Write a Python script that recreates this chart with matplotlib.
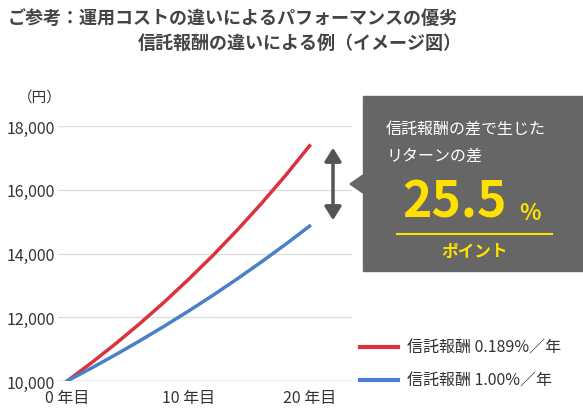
import matplotlib
matplotlib.use("Agg")
import matplotlib.pyplot as plt
from matplotlib.patches import Rectangle, Polygon, FancyArrowPatch

plt.rcParams['font.family'] = ['Noto Sans CJK JP', 'DejaVu Sans']

years = [0, 2, 4, 6, 8, 10, 12, 14, 16, 18, 20]
low_fee = [10000, 10568, 11168, 11802, 12472, 13183, 13930, 14721, 15557, 16440, 17379]
high_fee = [10000, 10404, 10824, 11262, 11717, 12190, 12682, 13195, 13728, 14282, 14859]
labels = ["信託報酬 0.189%／年", "信託報酬 1.00%／年"]
yticks = [10000, 12000, 14000, 16000, 18000]
xticks = [0, 10, 20]
xticklabels = ["0 年目", "10 年目", "20 年目"]

W, H = 583, 414
fig = plt.figure(figsize=(W/100, H/100), dpi=100)
def fx(p): return p / W
def fy(p): return 1 - p / H

ax = fig.add_axes([fx(58), fy(382), fx(352) - fx(58), fy(127) - fy(382)])
ax.set_xlim(-0.75, 23.5)
ax.set_ylim(10000, 18000)
red, blue = "#d9333f", "#4a7fcb"
ax.plot(years, low_fee, color=red, lw=2.5, zorder=3)
ax.plot(years, high_fee, color=blue, lw=2.5, zorder=3)
for v in yticks:
    ax.axhline(v, color="#999999" if v == 10000 else "#dddddd", lw=1, zorder=1)
for s in ax.spines.values():
    s.set_visible(False)
ax.set_yticks(yticks)
ax.set_yticklabels([f"{v:,}" for v in yticks], fontsize=11.5, color="#333333")
ax.set_xticks(xticks)
ax.set_xticklabels(xticklabels, fontsize=11.5, color="#333333")
ax.tick_params(length=0, pad=2)
ax.tick_params(axis='x', pad=6)

txtc = "#444444"
fig.text(fx(8), fy(18), "ご参考：運用コストの違いによるパフォーマンスの優劣", fontsize=13,
         fontweight="bold", color=txtc, va="center")
fig.text(fx(138), fy(43), "信託報酬の違いによる例（イメージ図）", fontsize=13,
         fontweight="bold", color=txtc, va="center")
fig.text(fx(18), fy(98), "（円）", fontsize=10.5, color="#333333", va="center")

fig.patches.append(Rectangle((fx(363), fy(272)), fx(583) - fx(363), fy(97) - fy(272),
                             transform=fig.transFigure, color="#666666"))
fig.patches.append(Polygon([(fx(363), fy(176)), (fx(350), fy(185)), (fx(363), fy(194))],
                           closed=True, transform=fig.transFigure, color="#666666"))
fig.text(fx(386), fy(130), "信託報酬の差で生じた", fontsize=11.5, color="white", ha="left", va="center")
fig.text(fx(386), fy(156), "リターンの差", fontsize=11.5, color="white", ha="left", va="center")
yel = "#ffe100"
fig.text(fx(455), fy(203), "25.5", fontsize=36, fontweight="bold", color=yel, ha="center", va="center")
fig.text(fx(530), fy(214), "%", fontsize=16, fontweight="bold", color=yel, ha="center", va="center")
fig.lines.append(plt.Line2D([fx(397), fx(552)], [fy(235), fy(235)], transform=fig.transFigure,
                            color=yel, lw=1.5))
fig.text(fx(475), fy(252), "ポイント", fontsize=12, fontweight="bold", color=yel, ha="center", va="center")

fig.patches.append(FancyArrowPatch((fx(333), fy(146)), (fx(333), fy(224)), transform=fig.transFigure,
                                   arrowstyle="<|-|>,head_length=8,head_width=5", color="#555555", lw=2.5))

for yy, c, lab in [(348, red, labels[0]), (381, blue, labels[1])]:
    fig.lines.append(plt.Line2D([fx(360), fx(398)], [fy(yy), fy(yy)], transform=fig.transFigure,
                                color=c, lw=3))
    fig.text(fx(407), fy(yy), lab, fontsize=11.5, color="#333333", va="center")

fig.savefig("out.png", dpi=100)
